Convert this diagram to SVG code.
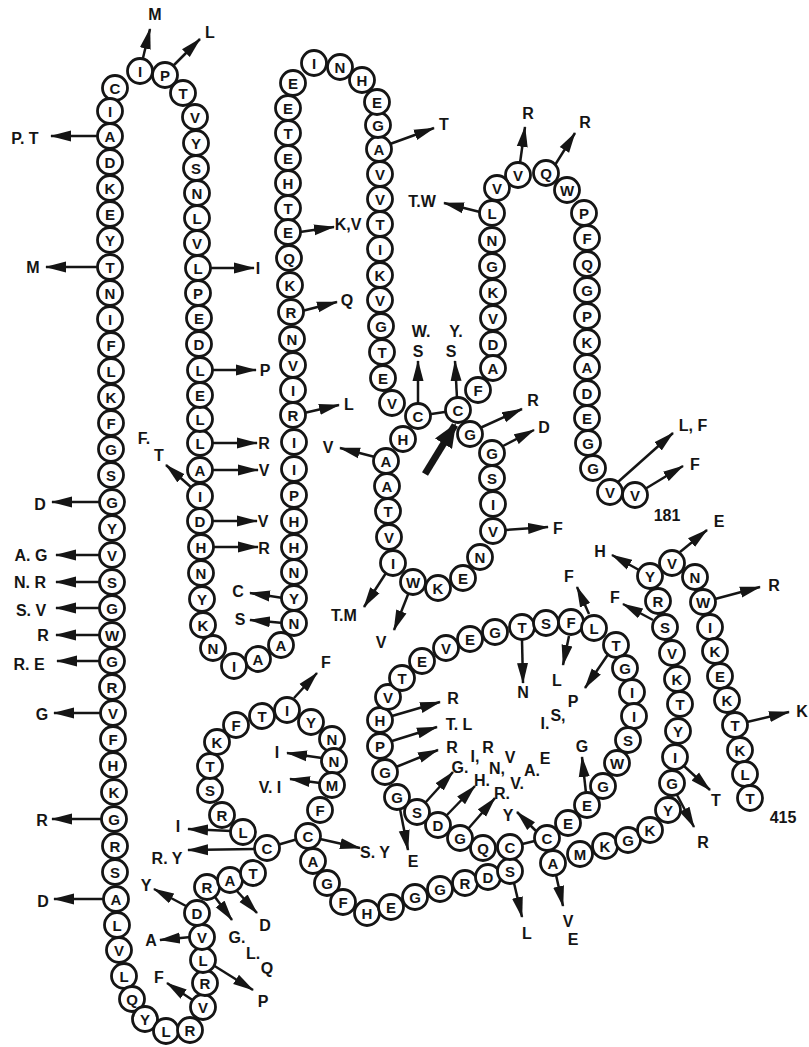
<svg xmlns="http://www.w3.org/2000/svg" width="809" height="1047" viewBox="0 0 809 1047">
<defs>
<style>
.bd circle{fill:#fff;stroke:#151515;stroke-width:2.8}
.bd text{font-family:"Liberation Sans",Arial,sans-serif;font-size:15px;font-weight:bold;fill:#151515;text-anchor:middle;dominant-baseline:central}
.cn line{stroke:#151515;stroke-width:2.5;fill:none}
.cn line.ar{marker-end:url(#ah)}
.cn line.big{stroke-width:7;marker-end:url(#bh)}
.lb text{font-family:"Liberation Sans",Arial,sans-serif;font-size:16px;font-weight:bold;fill:#151515;text-anchor:middle;dominant-baseline:central}
</style>
<marker id="ah" markerWidth="21" markerHeight="12" refX="20" refY="6" orient="auto" markerUnits="userSpaceOnUse"><path d="M0,0.5 L21,6 L0,11.5 z" fill="#151515"/></marker>
<marker id="bh" markerWidth="24" markerHeight="20" refX="22" refY="10" orient="auto" markerUnits="userSpaceOnUse"><path d="M0,0 L24,10 L0,20 z" fill="#151515"/></marker>
</defs>
<rect width="809" height="1047" fill="#fff"/>
<g id="connectors" class="cn">
<line x1="418" y1="416" x2="458" y2="410"/>
<line x1="267" y1="848" x2="308" y2="836"/>
<line x1="510" y1="847" x2="547" y2="838"/>
<line class="ar" x1="142" y1="62" x2="150" y2="29"/>
<line class="ar" x1="172" y1="67" x2="200" y2="39"/>
<line class="ar" x1="100" y1="136" x2="51" y2="136"/>
<line class="ar" x1="100" y1="267" x2="46" y2="267"/>
<line class="ar" x1="208" y1="268" x2="254" y2="268"/>
<line class="ar" x1="210" y1="370" x2="256" y2="370"/>
<line class="ar" x1="210" y1="443" x2="257" y2="443"/>
<line class="ar" x1="210" y1="470" x2="258" y2="470"/>
<line class="ar" x1="192" y1="488" x2="166" y2="465"/>
<line class="ar" x1="210" y1="521" x2="257" y2="521"/>
<line class="ar" x1="210" y1="547" x2="258" y2="547"/>
<line class="ar" x1="100" y1="502" x2="52" y2="502"/>
<line class="ar" x1="100" y1="555" x2="56" y2="555"/>
<line class="ar" x1="100" y1="582" x2="56" y2="582"/>
<line class="ar" x1="100" y1="608" x2="56" y2="608"/>
<line class="ar" x1="100" y1="635" x2="56" y2="635"/>
<line class="ar" x1="100" y1="661" x2="57" y2="661"/>
<line class="ar" x1="101" y1="713" x2="54" y2="713"/>
<line class="ar" x1="103" y1="819" x2="52" y2="819"/>
<line class="ar" x1="104" y1="899" x2="54" y2="899"/>
<line class="ar" x1="283" y1="598" x2="250" y2="593"/>
<line class="ar" x1="283" y1="623" x2="250" y2="620"/>
<line class="ar" x1="300" y1="232" x2="334" y2="227"/>
<line class="ar" x1="302" y1="311" x2="337" y2="302"/>
<line class="ar" x1="304" y1="413" x2="339" y2="405"/>
<line class="ar" x1="390" y1="144" x2="434" y2="128"/>
<line class="ar" x1="480" y1="212" x2="444" y2="203"/>
<line class="ar" x1="520" y1="163" x2="525" y2="127"/>
<line class="ar" x1="555" y1="165" x2="575" y2="133"/>
<line class="ar" x1="418" y1="404" x2="418" y2="361"/>
<line class="ar" x1="457" y1="398" x2="455" y2="361"/>
<line class="ar" x1="375" y1="457" x2="340" y2="448"/>
<line class="ar" x1="386" y1="573" x2="364" y2="607"/>
<line class="ar" x1="409" y1="592" x2="394" y2="630"/>
<line class="big" x1="425" y1="474" x2="455" y2="425"/>
<line class="ar" x1="480" y1="428" x2="522" y2="409"/>
<line class="ar" x1="503" y1="446" x2="534" y2="430"/>
<line class="ar" x1="505" y1="530" x2="548" y2="527"/>
<line class="ar" x1="618" y1="482" x2="673" y2="433"/>
<line class="ar" x1="645" y1="489" x2="683" y2="466"/>
<line class="ar" x1="294" y1="698" x2="317" y2="673"/>
<line class="ar" x1="322" y1="758" x2="287" y2="753"/>
<line class="ar" x1="320" y1="783" x2="290" y2="779"/>
<line class="ar" x1="320" y1="839" x2="360" y2="848"/>
<line class="ar" x1="231" y1="831" x2="188" y2="829"/>
<line class="ar" x1="255" y1="849" x2="188" y2="850"/>
<line class="ar" x1="186" y1="906" x2="154" y2="889"/>
<line class="ar" x1="191" y1="937" x2="160" y2="940"/>
<line class="ar" x1="194" y1="1001" x2="167" y2="983"/>
<line class="ar" x1="213" y1="965" x2="253" y2="990"/>
<line class="ar" x1="215" y1="897" x2="232" y2="920"/>
<line class="ar" x1="236" y1="890" x2="257" y2="913"/>
<line class="ar" x1="392" y1="716" x2="440" y2="702"/>
<line class="ar" x1="392" y1="741" x2="437" y2="727"/>
<line class="ar" x1="396" y1="767" x2="438" y2="750"/>
<line class="ar" x1="425" y1="803" x2="453" y2="772"/>
<line class="ar" x1="446" y1="816" x2="475" y2="786"/>
<line class="ar" x1="468" y1="829" x2="495" y2="798"/>
<line class="ar" x1="400" y1="809" x2="408" y2="850"/>
<line class="ar" x1="537" y1="832" x2="517" y2="812"/>
<line class="ar" x1="522" y1="640" x2="523" y2="683"/>
<line class="ar" x1="569" y1="636" x2="563" y2="665"/>
<line class="ar" x1="609" y1="653" x2="585" y2="688"/>
<line class="ar" x1="586" y1="793" x2="582" y2="757"/>
<line class="ar" x1="514" y1="883" x2="522" y2="917"/>
<line class="ar" x1="556" y1="875" x2="563" y2="906"/>
<line class="ar" x1="589" y1="614" x2="577" y2="587"/>
<line class="ar" x1="653" y1="620" x2="623" y2="604"/>
<line class="ar" x1="639" y1="570" x2="612" y2="555"/>
<line class="ar" x1="680" y1="552" x2="707" y2="530"/>
<line class="ar" x1="715" y1="599" x2="760" y2="587"/>
<line class="ar" x1="747" y1="722" x2="789" y2="712"/>
<line class="ar" x1="684" y1="766" x2="710" y2="790"/>
<line class="ar" x1="677" y1="795" x2="694" y2="827"/>
</g>
<g id="labels" class="lb">
<text x="155" y="14">M</text><text x="210" y="32">L</text><text x="25" y="138">P. T</text><text x="33" y="267">M</text>
<text x="258" y="268">I</text><text x="265" y="370">P</text><text x="264" y="443">R</text><text x="264" y="470">V</text>
<text x="144" y="438">F.</text><text x="159" y="455">T</text><text x="263" y="521">V</text><text x="264" y="548">R</text>
<text x="40" y="504">D</text><text x="31" y="555">A. G</text><text x="30" y="582">N. R</text><text x="31" y="610">S. V</text>
<text x="43" y="635">R</text><text x="29" y="664">R. E</text><text x="42" y="714">G</text><text x="42" y="820">R</text><text x="43" y="901">D</text>
<text x="238" y="591">C</text><text x="240" y="619">S</text><text x="348" y="224">K,V</text><text x="347" y="300">Q</text><text x="349" y="404">L</text>
<text x="444" y="124">T</text><text x="422" y="201">T.W</text><text x="528" y="113">R</text><text x="585" y="122">R</text>
<text x="421" y="331">W.</text><text x="418" y="351">S</text><text x="456" y="331">Y.</text><text x="451" y="351">S</text>
<text x="328" y="447">V</text><text x="344" y="615">T.M</text><text x="381" y="642">V</text>
<text x="533" y="400">R</text><text x="544" y="427">D</text><text x="558" y="528">F</text>
<text x="693" y="425">L, F</text><text x="695" y="464">F</text><text x="667" y="515">181</text>
<text x="326" y="662">F</text><text x="277" y="752">I</text><text x="270" y="787">V. I</text><text x="375" y="852">S. Y</text>
<text x="178" y="826">I</text><text x="167" y="858">R. Y</text><text x="146" y="885">Y</text><text x="151" y="940">A</text><text x="159" y="977">F</text>
<text x="263" y="1001">P</text><text x="237" y="937">G.</text><text x="253" y="953">L.</text><text x="267" y="968">Q</text><text x="265" y="925">D</text>
<text x="453" y="698">R</text><text x="459" y="724">T. L</text><text x="452" y="747">R</text>
<text x="460" y="767">G.</text><text x="475" y="756">I,</text><text x="488" y="747">R</text>
<text x="482" y="780">H.</text><text x="497" y="768">N,</text><text x="510" y="757">V</text>
<text x="502" y="793">R.</text><text x="517" y="783">V.</text><text x="532" y="770">A.</text><text x="545" y="758">E</text>
<text x="413" y="861">E</text><text x="508" y="815">Y</text><text x="523" y="692">N</text><text x="557" y="680">L</text>
<text x="545" y="723">I.</text><text x="558" y="715">S,</text><text x="573" y="701">P</text>
<text x="582" y="746">G</text><text x="527" y="933">L</text><text x="568" y="921">V</text><text x="573" y="939">E</text>
<text x="569" y="576">F</text><text x="615" y="597">F</text><text x="600" y="551">H</text><text x="719" y="521">E</text><text x="774" y="585">R</text>
<text x="802" y="711">K</text><text x="716" y="800">T</text><text x="703" y="842">R</text><text x="783" y="817">415</text>
</g>
<g id="residues" class="bd">
<g id="n1" transform="translate(635,495)"><circle r="12.5"/><text>V</text></g>
<g id="n2" transform="translate(610,492)"><circle r="12.5"/><text>V</text></g>
<g id="n3" transform="translate(593,468)"><circle r="12.5"/><text>G</text></g>
<g id="n4" transform="translate(588,443)"><circle r="12.5"/><text>G</text></g>
<g id="n5" transform="translate(587,418)"><circle r="12.5"/><text>E</text></g>
<g id="n6" transform="translate(587,393)"><circle r="12.5"/><text>D</text></g>
<g id="n7" transform="translate(587,367)"><circle r="12.5"/><text>A</text></g>
<g id="n8" transform="translate(587,342)"><circle r="12.5"/><text>K</text></g>
<g id="n9" transform="translate(587,316)"><circle r="12.5"/><text>P</text></g>
<g id="n10" transform="translate(587,290)"><circle r="12.5"/><text>G</text></g>
<g id="n11" transform="translate(587,264)"><circle r="12.5"/><text>Q</text></g>
<g id="n12" transform="translate(587,238)"><circle r="12.5"/><text>F</text></g>
<g id="n13" transform="translate(584,213)"><circle r="12.5"/><text>P</text></g>
<g id="n14" transform="translate(567,190)"><circle r="12.5"/><text>W</text></g>
<g id="n15" transform="translate(546,173)"><circle r="12.5"/><text>Q</text></g>
<g id="n16" transform="translate(518,175)"><circle r="12.5"/><text>V</text></g>
<g id="n17" transform="translate(497,188)"><circle r="12.5"/><text>V</text></g>
<g id="n18" transform="translate(492,213)"><circle r="12.5"/><text>L</text></g>
<g id="n19" transform="translate(492,240)"><circle r="12.5"/><text>N</text></g>
<g id="n20" transform="translate(492,266)"><circle r="12.5"/><text>G</text></g>
<g id="n21" transform="translate(493,292)"><circle r="12.5"/><text>K</text></g>
<g id="n22" transform="translate(493,318)"><circle r="12.5"/><text>V</text></g>
<g id="n23" transform="translate(493,344)"><circle r="12.5"/><text>D</text></g>
<g id="n24" transform="translate(493,368)"><circle r="12.5"/><text>A</text></g>
<g id="n25" transform="translate(478,390)"><circle r="12.5"/><text>F</text></g>
<g id="n26" transform="translate(458,410)"><circle r="12.5"/><text>C</text></g>
<g id="n27" transform="translate(470,434)"><circle r="12.5"/><text>G</text></g>
<g id="n28" transform="translate(492,453)"><circle r="12.5"/><text>G</text></g>
<g id="n29" transform="translate(492,478)"><circle r="12.5"/><text>S</text></g>
<g id="n30" transform="translate(493,504)"><circle r="12.5"/><text>I</text></g>
<g id="n31" transform="translate(493,531)"><circle r="12.5"/><text>V</text></g>
<g id="n32" transform="translate(480,557)"><circle r="12.5"/><text>N</text></g>
<g id="n33" transform="translate(463,578)"><circle r="12.5"/><text>E</text></g>
<g id="n34" transform="translate(438,588)"><circle r="12.5"/><text>K</text></g>
<g id="n35" transform="translate(413,582)"><circle r="12.5"/><text>W</text></g>
<g id="n36" transform="translate(393,563)"><circle r="12.5"/><text>I</text></g>
<g id="n37" transform="translate(389,537)"><circle r="12.5"/><text>V</text></g>
<g id="n38" transform="translate(388,511)"><circle r="12.5"/><text>T</text></g>
<g id="n39" transform="translate(387,486)"><circle r="12.5"/><text>A</text></g>
<g id="n40" transform="translate(386,461)"><circle r="12.5"/><text>A</text></g>
<g id="n41" transform="translate(403,439)"><circle r="12.5"/><text>H</text></g>
<g id="n42" transform="translate(418,416)"><circle r="12.5"/><text>C</text></g>
<g id="n43" transform="translate(392,403)"><circle r="12.5"/><text>V</text></g>
<g id="n44" transform="translate(383,378)"><circle r="12.5"/><text>E</text></g>
<g id="n45" transform="translate(382,352)"><circle r="12.5"/><text>T</text></g>
<g id="n46" transform="translate(381,326)"><circle r="12.5"/><text>G</text></g>
<g id="n47" transform="translate(380,300)"><circle r="12.5"/><text>V</text></g>
<g id="n48" transform="translate(380,275)"><circle r="12.5"/><text>K</text></g>
<g id="n49" transform="translate(380,249)"><circle r="12.5"/><text>I</text></g>
<g id="n50" transform="translate(380,224)"><circle r="12.5"/><text>T</text></g>
<g id="n51" transform="translate(380,199)"><circle r="12.5"/><text>V</text></g>
<g id="n52" transform="translate(380,174)"><circle r="12.5"/><text>V</text></g>
<g id="n53" transform="translate(379,149)"><circle r="12.5"/><text>A</text></g>
<g id="n54" transform="translate(378,125)"><circle r="12.5"/><text>G</text></g>
<g id="n55" transform="translate(377,102)"><circle r="12.5"/><text>E</text></g>
<g id="n56" transform="translate(362,80)"><circle r="12.5"/><text>H</text></g>
<g id="n57" transform="translate(340,67)"><circle r="12.5"/><text>N</text></g>
<g id="n58" transform="translate(314,63)"><circle r="12.5"/><text>I</text></g>
<g id="n59" transform="translate(293,83)"><circle r="12.5"/><text>E</text></g>
<g id="n60" transform="translate(288,108)"><circle r="12.5"/><text>E</text></g>
<g id="n61" transform="translate(288,133)"><circle r="12.5"/><text>T</text></g>
<g id="n62" transform="translate(288,158)"><circle r="12.5"/><text>E</text></g>
<g id="n63" transform="translate(288,183)"><circle r="12.5"/><text>H</text></g>
<g id="n64" transform="translate(288,208)"><circle r="12.5"/><text>T</text></g>
<g id="n65" transform="translate(288,232)"><circle r="12.5"/><text>E</text></g>
<g id="n66" transform="translate(289,258)"><circle r="12.5"/><text>Q</text></g>
<g id="n67" transform="translate(290,285)"><circle r="12.5"/><text>K</text></g>
<g id="n68" transform="translate(291,312)"><circle r="12.5"/><text>R</text></g>
<g id="n69" transform="translate(292,339)"><circle r="12.5"/><text>N</text></g>
<g id="n70" transform="translate(293,365)"><circle r="12.5"/><text>V</text></g>
<g id="n71" transform="translate(293,390)"><circle r="12.5"/><text>I</text></g>
<g id="n72" transform="translate(293,415)"><circle r="12.5"/><text>R</text></g>
<g id="n73" transform="translate(294,442)"><circle r="12.5"/><text>I</text></g>
<g id="n74" transform="translate(294,469)"><circle r="12.5"/><text>I</text></g>
<g id="n75" transform="translate(294,495)"><circle r="12.5"/><text>P</text></g>
<g id="n76" transform="translate(294,521)"><circle r="12.5"/><text>H</text></g>
<g id="n77" transform="translate(294,547)"><circle r="12.5"/><text>H</text></g>
<g id="n78" transform="translate(294,572)"><circle r="12.5"/><text>N</text></g>
<g id="n79" transform="translate(294,598)"><circle r="12.5"/><text>Y</text></g>
<g id="n80" transform="translate(294,623)"><circle r="12.5"/><text>N</text></g>
<g id="n81" transform="translate(281,645)"><circle r="12.5"/><text>A</text></g>
<g id="n82" transform="translate(258,659)"><circle r="12.5"/><text>A</text></g>
<g id="n83" transform="translate(234,666)"><circle r="12.5"/><text>I</text></g>
<g id="n84" transform="translate(213,648)"><circle r="12.5"/><text>N</text></g>
<g id="n85" transform="translate(203,625)"><circle r="12.5"/><text>K</text></g>
<g id="n86" transform="translate(202,599)"><circle r="12.5"/><text>Y</text></g>
<g id="n87" transform="translate(201,573)"><circle r="12.5"/><text>N</text></g>
<g id="n88" transform="translate(201,547)"><circle r="12.5"/><text>H</text></g>
<g id="n89" transform="translate(200,521)"><circle r="12.5"/><text>D</text></g>
<g id="n90" transform="translate(200,496)"><circle r="12.5"/><text>I</text></g>
<g id="n91" transform="translate(200,470)"><circle r="12.5"/><text>A</text></g>
<g id="n92" transform="translate(200,443)"><circle r="12.5"/><text>L</text></g>
<g id="n93" transform="translate(200,419)"><circle r="12.5"/><text>L</text></g>
<g id="n94" transform="translate(200,395)"><circle r="12.5"/><text>E</text></g>
<g id="n95" transform="translate(200,370)"><circle r="12.5"/><text>L</text></g>
<g id="n96" transform="translate(199,344)"><circle r="12.5"/><text>D</text></g>
<g id="n97" transform="translate(199,318)"><circle r="12.5"/><text>E</text></g>
<g id="n98" transform="translate(198,293)"><circle r="12.5"/><text>P</text></g>
<g id="n99" transform="translate(198,268)"><circle r="12.5"/><text>L</text></g>
<g id="n100" transform="translate(197,243)"><circle r="12.5"/><text>V</text></g>
<g id="n101" transform="translate(197,218)"><circle r="12.5"/><text>L</text></g>
<g id="n102" transform="translate(197,193)"><circle r="12.5"/><text>N</text></g>
<g id="n103" transform="translate(196,168)"><circle r="12.5"/><text>S</text></g>
<g id="n104" transform="translate(196,143)"><circle r="12.5"/><text>Y</text></g>
<g id="n105" transform="translate(195,117)"><circle r="12.5"/><text>V</text></g>
<g id="n106" transform="translate(183,93)"><circle r="12.5"/><text>T</text></g>
<g id="n107" transform="translate(165,75)"><circle r="12.5"/><text>P</text></g>
<g id="n108" transform="translate(140,71)"><circle r="12.5"/><text>I</text></g>
<g id="n109" transform="translate(115,88)"><circle r="12.5"/><text>C</text></g>
<g id="n110" transform="translate(110,111)"><circle r="12.5"/><text>I</text></g>
<g id="n111" transform="translate(110,136)"><circle r="12.5"/><text>A</text></g>
<g id="n112" transform="translate(110,162)"><circle r="12.5"/><text>D</text></g>
<g id="n113" transform="translate(110,188)"><circle r="12.5"/><text>K</text></g>
<g id="n114" transform="translate(110,214)"><circle r="12.5"/><text>E</text></g>
<g id="n115" transform="translate(110,240)"><circle r="12.5"/><text>Y</text></g>
<g id="n116" transform="translate(110,267)"><circle r="12.5"/><text>T</text></g>
<g id="n117" transform="translate(110,293)"><circle r="12.5"/><text>N</text></g>
<g id="n118" transform="translate(110,319)"><circle r="12.5"/><text>I</text></g>
<g id="n119" transform="translate(111,345)"><circle r="12.5"/><text>F</text></g>
<g id="n120" transform="translate(111,371)"><circle r="12.5"/><text>L</text></g>
<g id="n121" transform="translate(111,397)"><circle r="12.5"/><text>K</text></g>
<g id="n122" transform="translate(111,423)"><circle r="12.5"/><text>F</text></g>
<g id="n123" transform="translate(111,449)"><circle r="12.5"/><text>G</text></g>
<g id="n124" transform="translate(111,475)"><circle r="12.5"/><text>S</text></g>
<g id="n125" transform="translate(112,502)"><circle r="12.5"/><text>G</text></g>
<g id="n126" transform="translate(112,528)"><circle r="12.5"/><text>Y</text></g>
<g id="n127" transform="translate(112,555)"><circle r="12.5"/><text>V</text></g>
<g id="n128" transform="translate(112,582)"><circle r="12.5"/><text>S</text></g>
<g id="n129" transform="translate(112,608)"><circle r="12.5"/><text>G</text></g>
<g id="n130" transform="translate(112,635)"><circle r="12.5"/><text>W</text></g>
<g id="n131" transform="translate(112,661)"><circle r="12.5"/><text>G</text></g>
<g id="n132" transform="translate(112,687)"><circle r="12.5"/><text>R</text></g>
<g id="n133" transform="translate(113,713)"><circle r="12.5"/><text>V</text></g>
<g id="n134" transform="translate(113,739)"><circle r="12.5"/><text>F</text></g>
<g id="n135" transform="translate(113,765)"><circle r="12.5"/><text>H</text></g>
<g id="n136" transform="translate(114,792)"><circle r="12.5"/><text>K</text></g>
<g id="n137" transform="translate(114,819)"><circle r="12.5"/><text>G</text></g>
<g id="n138" transform="translate(115,846)"><circle r="12.5"/><text>R</text></g>
<g id="n139" transform="translate(115,872)"><circle r="12.5"/><text>S</text></g>
<g id="n140" transform="translate(116,899)"><circle r="12.5"/><text>A</text></g>
<g id="n141" transform="translate(117,925)"><circle r="12.5"/><text>L</text></g>
<g id="n142" transform="translate(119,950)"><circle r="12.5"/><text>V</text></g>
<g id="n143" transform="translate(124,976)"><circle r="12.5"/><text>L</text></g>
<g id="n144" transform="translate(132,999)"><circle r="12.5"/><text>Q</text></g>
<g id="n145" transform="translate(145,1019)"><circle r="12.5"/><text>Y</text></g>
<g id="n146" transform="translate(166,1031)"><circle r="12.5"/><text>L</text></g>
<g id="n147" transform="translate(190,1030)"><circle r="12.5"/><text>R</text></g>
<g id="n148" transform="translate(203,1007)"><circle r="12.5"/><text>V</text></g>
<g id="n149" transform="translate(205,983)"><circle r="12.5"/><text>R</text></g>
<g id="n150" transform="translate(203,960)"><circle r="12.5"/><text>L</text></g>
<g id="n151" transform="translate(202,937)"><circle r="12.5"/><text>V</text></g>
<g id="n152" transform="translate(197,913)"><circle r="12.5"/><text>D</text></g>
<g id="n153" transform="translate(207,887)"><circle r="12.5"/><text>R</text></g>
<g id="n154" transform="translate(230,880)"><circle r="12.5"/><text>A</text></g>
<g id="n155" transform="translate(253,873)"><circle r="12.5"/><text>T</text></g>
<g id="n156" transform="translate(267,848)"><circle r="12.5"/><text>C</text></g>
<g id="n157" transform="translate(243,832)"><circle r="12.5"/><text>L</text></g>
<g id="n158" transform="translate(222,815)"><circle r="12.5"/><text>R</text></g>
<g id="n159" transform="translate(210,790)"><circle r="12.5"/><text>S</text></g>
<g id="n160" transform="translate(210,766)"><circle r="12.5"/><text>T</text></g>
<g id="n161" transform="translate(217,742)"><circle r="12.5"/><text>K</text></g>
<g id="n162" transform="translate(236,725)"><circle r="12.5"/><text>F</text></g>
<g id="n163" transform="translate(262,716)"><circle r="12.5"/><text>T</text></g>
<g id="n164" transform="translate(287,710)"><circle r="12.5"/><text>I</text></g>
<g id="n165" transform="translate(311,722)"><circle r="12.5"/><text>Y</text></g>
<g id="n166" transform="translate(332,739)"><circle r="12.5"/><text>N</text></g>
<g id="n167" transform="translate(334,761)"><circle r="12.5"/><text>N</text></g>
<g id="n168" transform="translate(332,785)"><circle r="12.5"/><text>M</text></g>
<g id="n169" transform="translate(320,810)"><circle r="12.5"/><text>F</text></g>
<g id="n170" transform="translate(308,836)"><circle r="12.5"/><text>C</text></g>
<g id="n171" transform="translate(313,861)"><circle r="12.5"/><text>A</text></g>
<g id="n172" transform="translate(327,883)"><circle r="12.5"/><text>G</text></g>
<g id="n173" transform="translate(343,902)"><circle r="12.5"/><text>F</text></g>
<g id="n174" transform="translate(367,913)"><circle r="12.5"/><text>H</text></g>
<g id="n175" transform="translate(391,907)"><circle r="12.5"/><text>E</text></g>
<g id="n176" transform="translate(415,897)"><circle r="12.5"/><text>G</text></g>
<g id="n177" transform="translate(440,889)"><circle r="12.5"/><text>G</text></g>
<g id="n178" transform="translate(465,883)"><circle r="12.5"/><text>R</text></g>
<g id="n179" transform="translate(488,877)"><circle r="12.5"/><text>D</text></g>
<g id="n180" transform="translate(510,871)"><circle r="12.5"/><text>S</text></g>
<g id="n181" transform="translate(510,847)"><circle r="12.5"/><text>C</text></g>
<g id="n182" transform="translate(483,848)"><circle r="12.5"/><text>Q</text></g>
<g id="n183" transform="translate(460,838)"><circle r="12.5"/><text>G</text></g>
<g id="n184" transform="translate(438,825)"><circle r="12.5"/><text>D</text></g>
<g id="n185" transform="translate(417,812)"><circle r="12.5"/><text>S</text></g>
<g id="n186" transform="translate(397,797)"><circle r="12.5"/><text>G</text></g>
<g id="n187" transform="translate(385,772)"><circle r="12.5"/><text>G</text></g>
<g id="n188" transform="translate(380,746)"><circle r="12.5"/><text>P</text></g>
<g id="n189" transform="translate(380,720)"><circle r="12.5"/><text>H</text></g>
<g id="n190" transform="translate(388,697)"><circle r="12.5"/><text>V</text></g>
<g id="n191" transform="translate(402,678)"><circle r="12.5"/><text>T</text></g>
<g id="n192" transform="translate(422,661)"><circle r="12.5"/><text>E</text></g>
<g id="n193" transform="translate(446,648)"><circle r="12.5"/><text>V</text></g>
<g id="n194" transform="translate(470,639)"><circle r="12.5"/><text>E</text></g>
<g id="n195" transform="translate(495,632)"><circle r="12.5"/><text>G</text></g>
<g id="n196" transform="translate(522,627)"><circle r="12.5"/><text>T</text></g>
<g id="n197" transform="translate(546,623)"><circle r="12.5"/><text>S</text></g>
<g id="n198" transform="translate(571,622)"><circle r="12.5"/><text>F</text></g>
<g id="n199" transform="translate(594,628)"><circle r="12.5"/><text>L</text></g>
<g id="n200" transform="translate(616,645)"><circle r="12.5"/><text>T</text></g>
<g id="n201" transform="translate(625,668)"><circle r="12.5"/><text>G</text></g>
<g id="n202" transform="translate(632,692)"><circle r="12.5"/><text>I</text></g>
<g id="n203" transform="translate(634,716)"><circle r="12.5"/><text>I</text></g>
<g id="n204" transform="translate(628,740)"><circle r="12.5"/><text>S</text></g>
<g id="n205" transform="translate(617,763)"><circle r="12.5"/><text>W</text></g>
<g id="n206" transform="translate(603,786)"><circle r="12.5"/><text>G</text></g>
<g id="n207" transform="translate(587,805)"><circle r="12.5"/><text>E</text></g>
<g id="n208" transform="translate(568,823)"><circle r="12.5"/><text>E</text></g>
<g id="n209" transform="translate(547,838)"><circle r="12.5"/><text>C</text></g>
<g id="n210" transform="translate(553,863)"><circle r="12.5"/><text>A</text></g>
<g id="n211" transform="translate(580,854)"><circle r="12.5"/><text>M</text></g>
<g id="n212" transform="translate(605,846)"><circle r="12.5"/><text>K</text></g>
<g id="n213" transform="translate(628,840)"><circle r="12.5"/><text>G</text></g>
<g id="n214" transform="translate(650,830)"><circle r="12.5"/><text>K</text></g>
<g id="n215" transform="translate(668,810)"><circle r="12.5"/><text>Y</text></g>
<g id="n216" transform="translate(672,783)"><circle r="12.5"/><text>G</text></g>
<g id="n217" transform="translate(675,757)"><circle r="12.5"/><text>I</text></g>
<g id="n218" transform="translate(678,731)"><circle r="12.5"/><text>Y</text></g>
<g id="n219" transform="translate(680,704)"><circle r="12.5"/><text>T</text></g>
<g id="n220" transform="translate(677,679)"><circle r="12.5"/><text>K</text></g>
<g id="n221" transform="translate(672,653)"><circle r="12.5"/><text>V</text></g>
<g id="n222" transform="translate(665,627)"><circle r="12.5"/><text>S</text></g>
<g id="n223" transform="translate(658,601)"><circle r="12.5"/><text>R</text></g>
<g id="n224" transform="translate(650,576)"><circle r="12.5"/><text>Y</text></g>
<g id="n225" transform="translate(672,563)"><circle r="12.5"/><text>V</text></g>
<g id="n226" transform="translate(695,577)"><circle r="12.5"/><text>N</text></g>
<g id="n227" transform="translate(703,602)"><circle r="12.5"/><text>W</text></g>
<g id="n228" transform="translate(710,627)"><circle r="12.5"/><text>I</text></g>
<g id="n229" transform="translate(715,651)"><circle r="12.5"/><text>K</text></g>
<g id="n230" transform="translate(720,676)"><circle r="12.5"/><text>E</text></g>
<g id="n231" transform="translate(727,700)"><circle r="12.5"/><text>K</text></g>
<g id="n232" transform="translate(735,725)"><circle r="12.5"/><text>T</text></g>
<g id="n233" transform="translate(740,750)"><circle r="12.5"/><text>K</text></g>
<g id="n234" transform="translate(745,774)"><circle r="12.5"/><text>L</text></g>
<g id="n235" transform="translate(750,798)"><circle r="12.5"/><text>T</text></g>
</g>
</svg>
